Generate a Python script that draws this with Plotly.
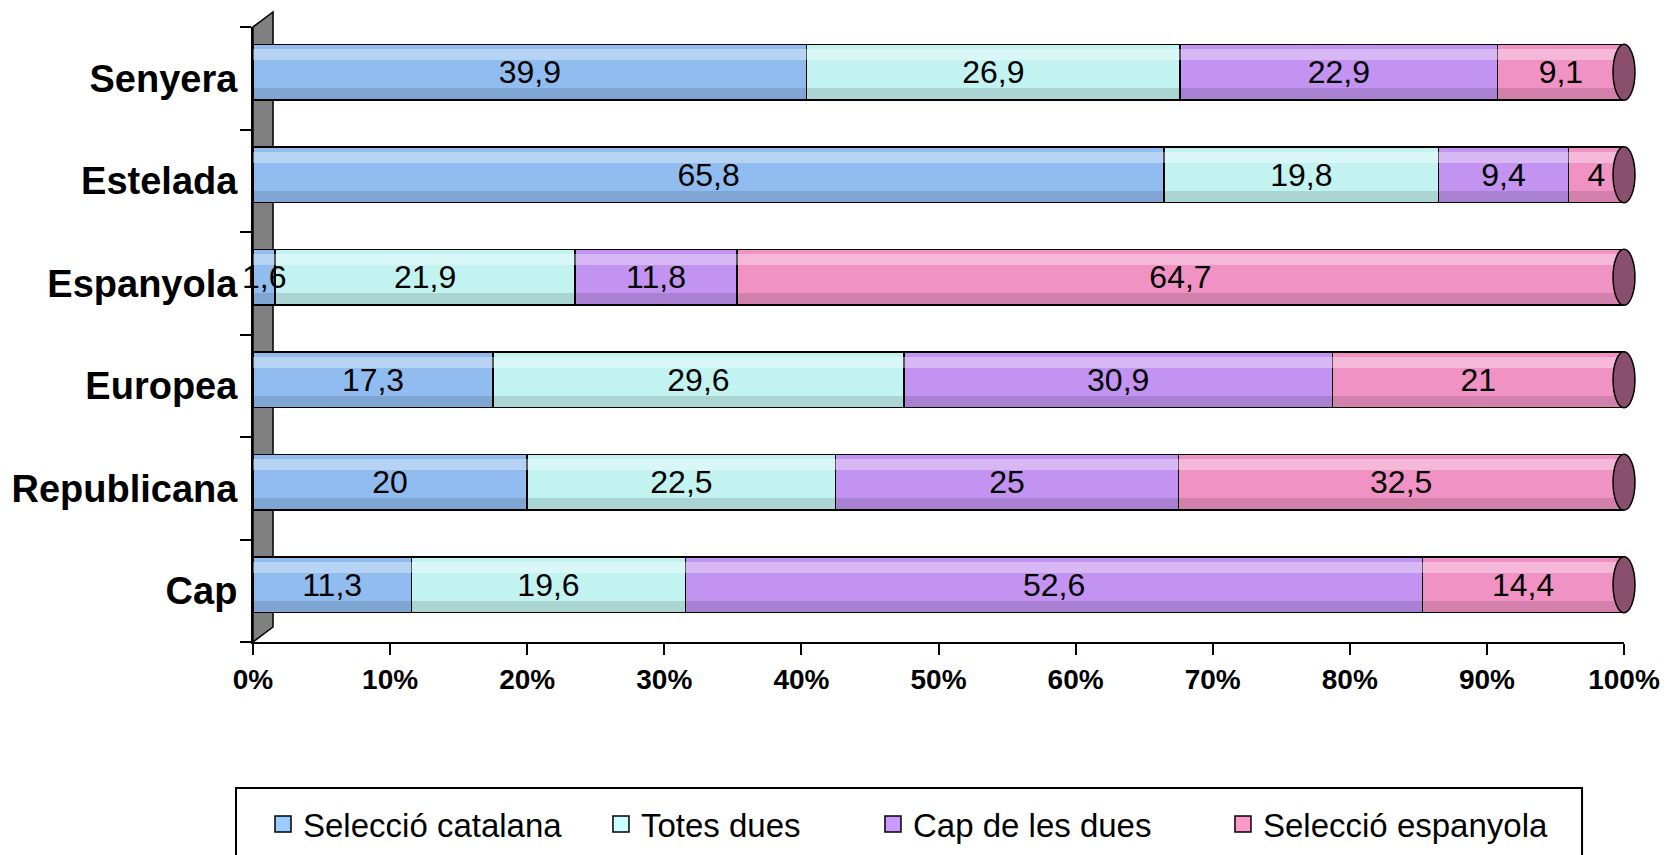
import plotly.graph_objects as go

# Dades (de baix a dalt, com a l'eix)
categories = ["Cap", "Republicana", "Europea", "Espanyola", "Estelada", "Senyera"]
series_names = ["Selecció catalana", "Totes dues", "Cap de les dues", "Selecció espanyola"]
seleccio_catalana = [11.3, 20, 17.3, 1.6, 65.8, 39.9]
totes_dues = [19.6, 22.5, 29.6, 21.9, 19.8, 26.9]
cap_de_les_dues = [52.6, 25, 30.9, 11.8, 9.4, 22.9]
seleccio_espanyola = [14.4, 32.5, 21, 64.7, 4, 9.1]
x_ticks = [0, 10, 20, 30, 40, 50, 60, 70, 80, 90, 100]
x_tick_labels = ["0%", "10%", "20%", "30%", "40%", "50%", "60%", "70%", "80%", "90%", "100%"]

bar_colors = ["#91BCEF", "#C3F3F1", "#C293F0", "#F093C4"]
legend_colors = ["#99CCFF", "#CCFFFF", "#CC99FF", "#FF99CC"]
FONT = "Arial, Liberation Sans, sans-serif"

BAR_W = 0.546
BAR_OFF = -0.2145
SMALL = 3  # segments massa estrets: l'etiqueta va com a anotació, sense retallar

all_series = [seleccio_catalana, totes_dues, cap_de_les_dues, seleccio_espanyola]
row_sums = [sum(s[i] for s in all_series) for i in range(len(categories))]


def fmt(v):
    return f"{v:g}".replace(".", ",")


fig = go.Figure()
annotations = []

# barres principals
for name, vals, col in zip(series_names, all_series, bar_colors):
    fig.add_trace(go.Bar(
        y=categories,
        x=vals,
        name=name,
        orientation="h",
        width=BAR_W,
        offset=BAR_OFF,
        marker=dict(color=col, line=dict(color="black", width=1.5)),
        text=[fmt(v) if v >= SMALL else "" for v in vals],
        customdata=[fmt(v) for v in vals],
        texttemplate="%{text}",
        textposition="inside",
        textangle=0,
        constraintext="none",
        insidetextanchor="middle",
        insidetextfont=dict(color="black", size=32, family=FONT),
        showlegend=False,
        hovertemplate="%{y}: %{customdata}<extra>" + name + "</extra>",
    ))

# etiquetes dels segments estrets (el "1,6"), que sobresurten per l'esquerra
start = [0.0] * len(categories)
for vals in all_series:
    for i, v in enumerate(vals):
        if v < SMALL:
            annotations.append(dict(
                x=100 * (start[i] + v / 2) / row_sums[i], xref="x",
                y=categories[i], yref="y", yshift=6,
                text=fmt(v), showarrow=False, xanchor="center",
                font=dict(size=32, family=FONT, color="black"),
            ))
        start[i] += v

# reflex clar i ombra per simular el cilindre (mateixes dades, eixos superposats)
bands = [("y2", 0.39, 0.107, "rgba(255,255,255,0.35)"),
         ("y3", 0.0, 0.117, "rgba(0,0,0,0.12)")]
for axis, band_off, band_w, band_col in bands:
    for vals in all_series:
        fig.add_trace(go.Bar(
            y=categories,
            x=vals,
            orientation="h",
            yaxis=axis,
            width=band_w,
            offset=BAR_OFF + band_off,
            marker=dict(color=band_col, line=dict(width=0)),
            showlegend=False,
            hoverinfo="skip",
        ))

# llegenda: una per entrada, per col·locar-les com a l'original
legend_x = [0.0073, 0.2538, 0.4522, 0.7075]
legend_layout = {}
for k, (name, col) in enumerate(zip(series_names, legend_colors)):
    lname = "legend" if k == 0 else f"legend{k + 1}"
    fig.add_trace(go.Scatter(
        x=[None], y=[None],
        mode="markers",
        name=name,
        legend=lname,
        marker=dict(symbol="square", size=18, color=col, line=dict(color="black", width=1.5)),
        showlegend=True,
    ))
    legend_layout[lname] = dict(
        x=legend_x[k], xanchor="left",
        y=-0.296, yanchor="middle",
        font=dict(size=33, family=FONT),
        bgcolor="rgba(0,0,0,0)",
        borderwidth=0,
        itemsizing="trace",
    )

# paret gris de l'esquerra (efecte 3D)
shapes = [dict(
    type="path",
    xref="paper", yref="paper",
    path="M 0 0 L 0 1 L 0.0146 1.0244 L 0.0146 0.0244 Z",
    fillcolor="#808080",
    line=dict(color="black", width=1.5),
    layer="below",
)]

# marc de la llegenda
shapes.append(dict(
    type="rect",
    xref="paper", yref="paper",
    x0=-0.0124, x1=0.9694, y0=-0.40, y1=-0.2374,
    line=dict(color="black", width=2),
    fillcolor="rgba(0,0,0,0)",
))

# tapes dels cilindres
for i, cat in enumerate(categories):
    shapes.append(dict(
        type="circle",
        xref="paper", yref="y",
        x0=0.992, x1=1.008,
        y0=i + BAR_OFF, y1=i + BAR_OFF + BAR_W,
        fillcolor="#8A4F6C",
        line=dict(color="black", width=1.5),
        layer="above",
    ))

# la pàgina té 8 px de marge al body: es compensa aquí
fig.update_layout(
    width=1660,
    height=847,
    barmode="stack",
    barnorm="percent",
    plot_bgcolor="white",
    paper_bgcolor="white",
    margin=dict(l=245, r=44, t=19, b=213, autoexpand=False),
    font=dict(family=FONT, color="black"),
    shapes=shapes,
    annotations=annotations,
    showlegend=True,
    **legend_layout,
)

fig.update_layout(
    yaxis2=dict(overlaying="y", matches="y", visible=False,
                categoryorder="array", categoryarray=categories),
    yaxis3=dict(overlaying="y", matches="y", visible=False,
                categoryorder="array", categoryarray=categories),
)

fig.update_xaxes(
    range=[0, 100],
    tickvals=x_ticks,
    ticktext=x_tick_labels,
    ticks="outside",
    ticklen=11,
    tickwidth=2,
    tickcolor="black",
    showline=True,
    linecolor="black",
    linewidth=2,
    showgrid=False,
    zeroline=False,
    automargin=False,
    tickfont=dict(size=28, family=FONT, weight="bold"),
)

fig.update_layout(yaxis=dict(
    categoryorder="array",
    categoryarray=categories,
    tickson="boundaries",
    ticks="outside",
    ticklen=11,
    tickwidth=2,
    tickcolor="black",
    ticklabelstandoff=6,
    showline=True,
    linecolor="black",
    linewidth=2,
    showgrid=False,
    zeroline=False,
    automargin=False,
    tickfont=dict(size=38, family=FONT, weight="bold"),
))

fig.write_html("out.html")
